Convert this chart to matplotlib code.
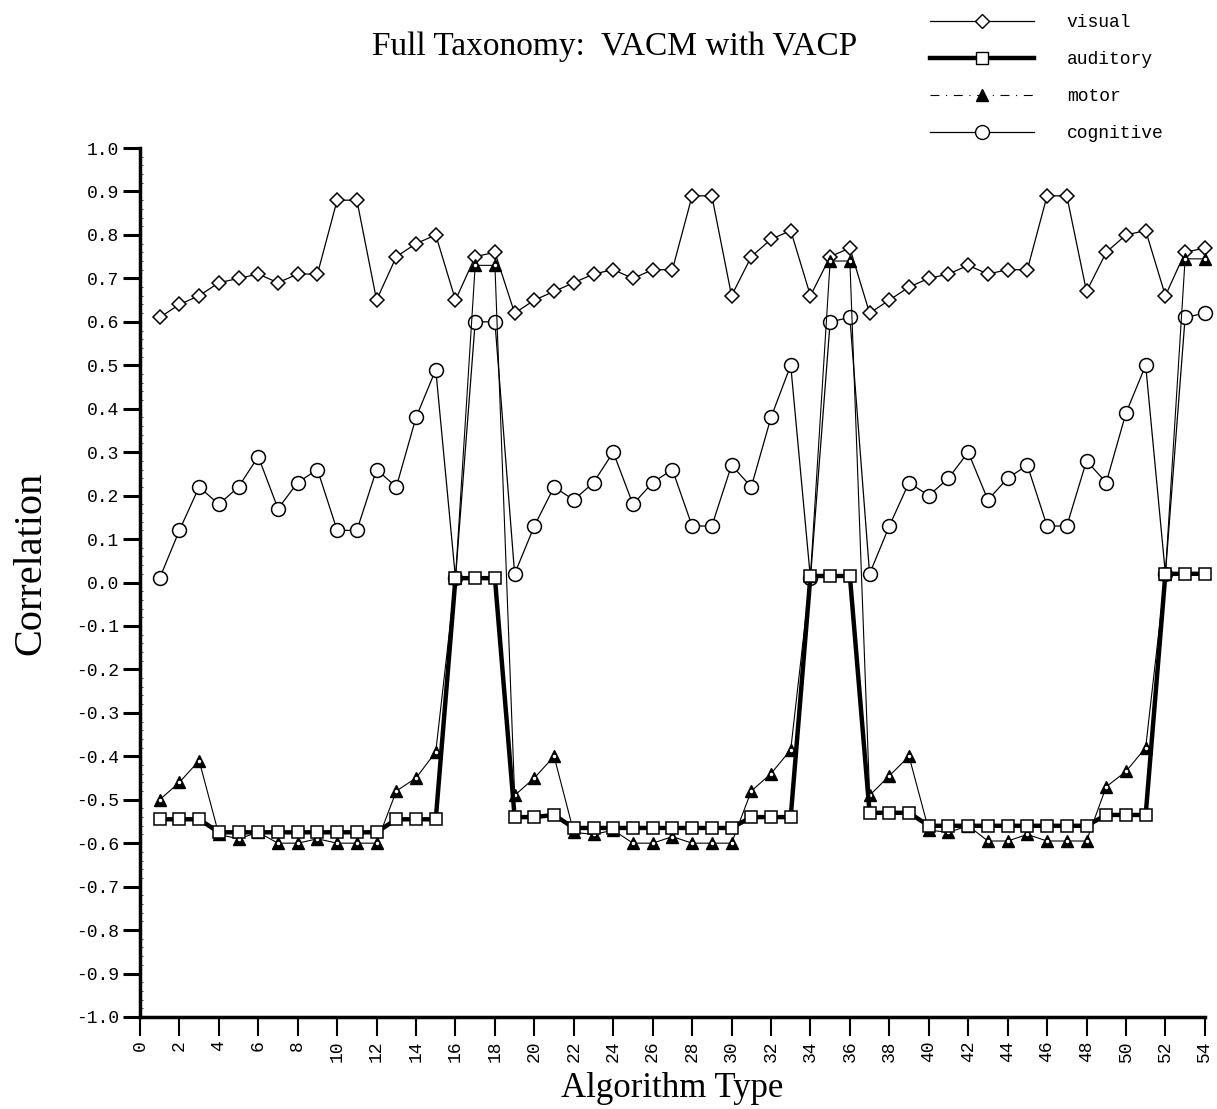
import numpy as np
import matplotlib
matplotlib.use('Agg')
import matplotlib.pyplot as plt
from matplotlib.lines import Line2D

# algorithm types 1..54
algo = np.arange(1, 55)

visual = [0.61, 0.64, 0.66, 0.69, 0.70, 0.71, 0.69, 0.71, 0.71, 0.88,
          0.88, 0.65, 0.75, 0.78, 0.80, 0.65, 0.75, 0.76, 0.62, 0.65,
          0.67, 0.69, 0.71, 0.72, 0.70, 0.72, 0.72, 0.89, 0.89, 0.66,
          0.75, 0.79, 0.81, 0.66, 0.75, 0.77, 0.62, 0.65, 0.68, 0.70,
          0.71, 0.73, 0.71, 0.72, 0.72, 0.89, 0.89, 0.67, 0.76, 0.80,
          0.81, 0.66, 0.76, 0.77]

auditory = [-0.545, -0.545, -0.545, -0.575, -0.575, -0.575, -0.575, -0.575, -0.575, -0.575,
            -0.575, -0.575, -0.545, -0.545, -0.545, 0.01, 0.01, 0.01, -0.54, -0.54,
            -0.535, -0.565, -0.565, -0.565, -0.565, -0.565, -0.565, -0.565, -0.565, -0.565,
            -0.54, -0.54, -0.54, 0.015, 0.015, 0.015, -0.53, -0.53, -0.53, -0.56,
            -0.56, -0.56, -0.56, -0.56, -0.56, -0.56, -0.56, -0.56, -0.535, -0.535,
            -0.535, 0.02, 0.02, 0.02]

motor = [-0.50, -0.46, -0.41, -0.58, -0.59, -0.575, -0.60, -0.60, -0.59, -0.60,
         -0.60, -0.60, -0.48, -0.45, -0.39, 0.01, 0.73, 0.73, -0.49, -0.45,
         -0.40, -0.575, -0.58, -0.57, -0.60, -0.60, -0.585, -0.60, -0.60, -0.60,
         -0.48, -0.44, -0.385, 0.015, 0.74, 0.74, -0.49, -0.445, -0.40, -0.57,
         -0.575, -0.56, -0.595, -0.595, -0.58, -0.595, -0.595, -0.595, -0.47, -0.435,
         -0.38, 0.02, 0.745, 0.745]

cognitive = [0.01, 0.12, 0.22, 0.18, 0.22, 0.29, 0.17, 0.23, 0.26, 0.12,
             0.12, 0.26, 0.22, 0.38, 0.49, 0.01, 0.60, 0.60, 0.02, 0.13,
             0.22, 0.19, 0.23, 0.30, 0.18, 0.23, 0.26, 0.13, 0.13, 0.27,
             0.22, 0.38, 0.50, 0.01, 0.60, 0.61, 0.02, 0.13, 0.23, 0.20,
             0.24, 0.30, 0.19, 0.24, 0.27, 0.13, 0.13, 0.28, 0.23, 0.39,
             0.50, 0.02, 0.61, 0.62]

serif = 'Liberation Serif'
mono = 'Liberation Mono'

fig = plt.figure(figsize=(12.17, 11.09), dpi=100)
ax = fig.add_axes([0.115, 0.083, 0.875, 0.7835])

# series
ax.plot(algo, visual, color='black', lw=0.9, marker='D', ms=7,
        mfc='white', mec='black', mew=1.1, zorder=3, clip_on=False)
ax.plot(algo, motor, color='black', lw=0.8, marker='^', ms=9,
        mfc='black', mec='black', zorder=4, clip_on=False)
ax.plot(algo, motor, ls='none', marker='o', ms=1.5, mfc='white', mec='white',
        zorder=4.5, clip_on=False)
ax.plot(algo, auditory, color='black', lw=3.2, marker='s', ms=9,
        mfc='white', mec='black', mew=1.1, zorder=5, clip_on=False)
ax.plot(algo, cognitive, color='black', lw=0.9, marker='o', ms=10,
        mfc='white', mec='black', mew=1.1, zorder=3, clip_on=False)

# axes styling
ax.set_xlim(0, 54)
ax.set_ylim(-1.0, 1.0)
ax.set_xticks(np.arange(0, 55, 2))
ax.set_xticklabels([str(v) for v in range(0, 55, 2)], rotation=90,
                   family=mono, fontsize=13)
yt = np.round(np.arange(-1.0, 1.01, 0.1), 1)
ax.set_yticks(yt)
ax.set_yticklabels(['%.1f' % v if abs(v) > 1e-9 else '0.0' for v in yt],
                   family=mono, fontsize=13)
ax.set_yticks(np.arange(-1.0, 1.0, 0.02), minor=True)
ax.tick_params(axis='y', which='minor', length=2, width=0.5, direction='in')
ax.tick_params(axis='both', which='major', length=12, width=2.2, direction='out', pad=3)
ax.tick_params(axis='x', which='major', length=14, width=1.5)
for side in ('top', 'right'):
    ax.spines[side].set_visible(False)
ax.spines['left'].set_linewidth(2.5)
ax.spines['bottom'].set_linewidth(2.5)

ax.set_xlabel('Algorithm Type', family=serif, fontsize=25, labelpad=7)
ax.set_ylabel('Correlation', family=serif, fontsize=29)
ax.yaxis.set_label_coords(-0.085, 0.522)

fig.text(0.505, 0.958, 'Full Taxonomy:  VACM with VACP', family=serif,
         fontsize=24, ha='center', va='center')

# legend
handles = [
    Line2D([], [], color='black', lw=0.9, marker='D', ms=7, mfc='white', mec='black'),
    Line2D([], [], color='black', lw=3.2, marker='s', ms=9, mfc='white', mec='black'),
    Line2D([], [], color='black', lw=0.8, ls=(0, (8, 6, 1, 6)), marker='^', ms=9,
           mfc='black', mec='black'),
    Line2D([], [], color='black', lw=0.9, marker='o', ms=10, mfc='white', mec='black'),
]
fig.legend(handles, ['visual', 'auditory', 'motor', 'cognitive'],
           loc='upper right', bbox_to_anchor=(0.968, 1.0), frameon=False,
           prop={'family': mono, 'size': 13}, handlelength=5.8,
           labelspacing=1.1, handletextpad=1.8, borderpad=0.3)

plt.savefig('out.png', dpi=100)
